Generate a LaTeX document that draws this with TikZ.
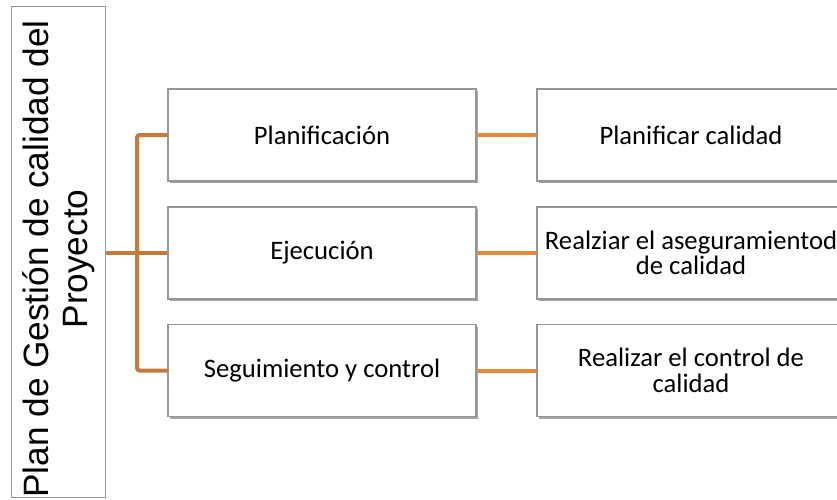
\documentclass[tikz,border=0pt]{standalone}
\usepackage{fontspec}
\setmainfont{Carlito}
\newfontfamily\arialfont{Liberation Sans}
\usetikzlibrary{shadows}
\definecolor{copper}{RGB}{197, 122, 57}
\definecolor{carrot}{RGB}{228, 138, 62}
\definecolor{frame}{RGB}{150, 150, 150}
\tikzset{
  boxstyle/.style={draw=frame, fill=white, line width=0.8pt, inner sep=2pt,
                   minimum width=231pt, minimum height=69pt, align=center,
                   font=\fontsize{20}{19}\selectfont,
                   drop shadow={shadow xshift=1.2pt, shadow yshift=-1.8pt, opacity=0.35, fill=black}},
  rootstyle/.style={draw=frame, fill=white, line width=0.8pt, inner sep=0pt,
                   minimum width=368pt, minimum height=70pt, align=center, rotate=90,
                   font=\arialfont\fontsize{26.4}{29}\selectfont},
  linkleft/.style={draw=copper, line width=3pt, rounded corners=2pt},
  linkright/.style={draw=carrot, line width=3pt}
}
\begin{document}
\begin{tikzpicture}[x=0.75pt, y=-0.75pt]
        \useasboundingbox (0,0) rectangle (837,499);
        % root box
        \node[rootstyle] (plan)  at ( 58.5,252.0) {Plan de Gestión de calidad del\hspace*{10.5pt}\\Proyecto\hspace*{10.5pt}};
        % processes
        \node[boxstyle]  (plani) at (322.0,135.0) {Planificación};
        \node[boxstyle]  (ejec)  at (322.0,253.0) {Ejecución};
        \node[boxstyle]  (segui) at (322.0,370.5) {Seguimiento y control};
        % tasks
        \node[boxstyle]  (pcal)  at (691.0,135.0) {Planificar calidad};
        \node[boxstyle]  (acal)  at (691.0,253.0) {Realziar el aseguramientod\\de calidad};
        \node[boxstyle]  (ccal)  at (691.0,370.5) {Realizar el control de\\calidad};
        \coordinate (bus) at (137.0,253.0);
        \draw[linkleft]  (plan.south |- ejec.west) -- (ejec.west);
        \draw[linkleft]  (plani.west) -- (bus |- plani.west) -- (bus |- segui.west) -- (segui.west);
        \draw[linkright] (plani.east) -- (pcal.west);
        \draw[linkright] (ejec.east)  -- (acal.west);
        \draw[linkright] (segui.east) -- (ccal.west);
\end{tikzpicture}
\end{document}
